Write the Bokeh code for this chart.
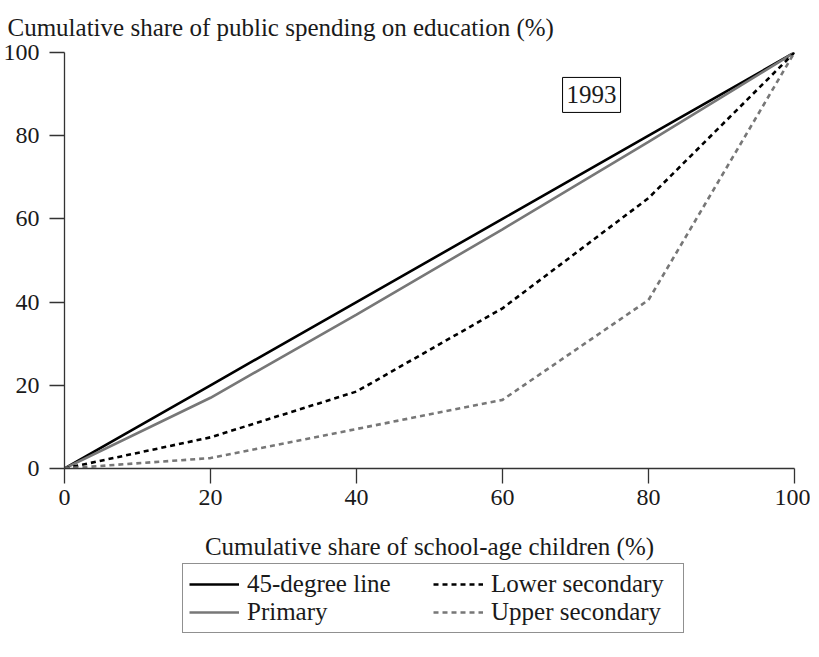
from bokeh.plotting import figure
from bokeh.models import Legend, LegendItem, Label, Range1d
from bokeh.layouts import column
from bokeh.embed import file_html
from bokeh.resources import INLINE

# Data
share_children = [0, 20, 40, 60, 80, 100]
line_45 = [0, 20, 40, 60, 80, 100]
primary = [0, 17, 37, 57.5, 78.5, 100]
lower_secondary = [0, 7.5, 18.5, 38.5, 65, 100]
upper_secondary = [0, 2.5, 9.5, 16.5, 40.5, 100]
tick_values = [0, 20, 40, 60, 80, 100]
series_names = ["45-degree line", "Primary", "Lower secondary", "Upper secondary"]

FONT = "Liberation Serif"
TXT = "#1a1a1a"
GRAY = "#777777"

p = figure(frame_width=730, frame_height=416, output_backend="svg",
           toolbar_location=None, x_range=Range1d(0, 100), y_range=Range1d(0, 100),
           min_border_left=57, min_border_right=16, min_border_top=0, min_border_bottom=0)
p.outline_line_color = None
p.xgrid.visible = False
p.ygrid.visible = False

p.title.text = "Cumulative share of public spending on education (%)"
p.title.text_font = FONT
p.title.text_font_size = "25px"
p.title.text_font_style = "normal"
p.title.text_color = TXT
p.title.align = "left"
p.title.offset = -57
p.title.standoff = 23

for ax in (p.xaxis[0], p.yaxis[0]):
    ax.ticker = tick_values
    ax.minor_tick_line_color = None
    ax.major_tick_in = 0
    ax.major_tick_out = 15
    ax.axis_line_color = "#333333"
    ax.axis_line_width = 1.3
    ax.major_tick_line_color = "#333333"
    ax.major_tick_line_width = 1.3
    ax.major_label_text_font = FONT
    ax.major_label_text_font_size = "24px"
    ax.major_label_text_color = TXT
    ax.axis_label_text_font = FONT
    ax.axis_label_text_font_size = "25px"
    ax.axis_label_text_font_style = "normal"
    ax.axis_label_text_color = TXT

p.xaxis.axis_label = "Cumulative share of school-age children (%)"
p.xaxis.major_label_standoff = 6
p.xaxis.axis_label_standoff = 25
p.yaxis.major_label_standoff = 10

styles = [("black", None), (GRAY, None), ("black", "5 4"), (GRAY, "5 4")]
series = [line_45, primary, lower_secondary, upper_secondary]


def style_kw(col, dash):
    kw = dict(line_color=col, line_width=2.6)
    if dash:
        kw["line_dash"] = dash
    return kw


for ys, (col, dash) in zip(series, styles):
    p.line(share_children, ys, **style_kw(col, dash))

lab = Label(x=72.2, y=89.8, text="1993", text_font=FONT, text_font_size="25px", text_color=TXT,
            text_align="center", text_baseline="middle",
            border_line_color="black", border_line_width=1,
            background_fill_color="white", padding=(4, 9))
p.add_layout(lab)

# Legend panel (separate figure under the chart); its lines lie outside its ranges
pl = figure(width=803, height=80, output_backend="svg", toolbar_location=None,
            x_range=Range1d(1000, 1001), y_range=Range1d(1000, 1001),
            min_border_left=57, min_border_right=16, min_border_top=0, min_border_bottom=0)
pl.axis.visible = False
pl.grid.visible = False
pl.outline_line_color = None
items = []
for name, ys, (col, dash) in zip(series_names, series, styles):
    r = pl.line(share_children, ys, **style_kw(col, dash))
    items.append(LegendItem(label=name, renderers=[r]))

legend = Legend(items=items, ncols=2, location=(118, 9), orientation="vertical")
legend.label_text_font = FONT
legend.label_text_font_size = "25px"
legend.label_text_color = TXT
legend.border_line_color = "#222222"
legend.border_line_width = 1.2
legend.background_fill_alpha = 0
legend.glyph_width = 50
legend.glyph_height = 20
legend.label_standoff = 8
legend.label_width = 186
legend.label_height = 20
legend.spacing = 0
legend.padding = 6
legend.margin = 0
pl.add_layout(legend, "center")

open("out.html", "w").write(file_html(column(p, pl), INLINE))
